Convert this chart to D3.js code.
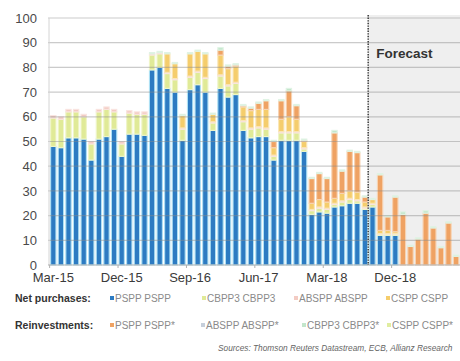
<!DOCTYPE html>
<html>
<head>
<meta charset="utf-8">
<script src="https://cdn.jsdelivr.net/npm/d3@7"></script>
<style>
  html, body { margin: 0; padding: 0; background: #fff; }
  svg { display: block; font-family: "Liberation Sans", Arial, sans-serif; }
</style>
</head>
<body>
<svg id="chart" width="460" height="361"></svg>
<script>
// Monthly Eurosystem asset purchases, EUR bn (Mar-15 .. Aug-19)
const months = ["Mar-15","Apr-15","May-15","Jun-15","Jul-15","Aug-15","Sep-15","Oct-15","Nov-15","Dec-15",
  "Jan-16","Feb-16","Mar-16","Apr-16","May-16","Jun-16","Jul-16","Aug-16","Sep-16","Oct-16","Nov-16","Dec-16",
  "Jan-17","Feb-17","Mar-17","Apr-17","May-17","Jun-17","Jul-17","Aug-17","Sep-17","Oct-17","Nov-17","Dec-17",
  "Jan-18","Feb-18","Mar-18","Apr-18","May-18","Jun-18","Jul-18","Aug-18","Sep-18","Oct-18","Nov-18","Dec-18",
  "Jan-19","Feb-19","Mar-19","Apr-19","May-19","Jun-19","Jul-19","Aug-19"];

const tickLabels = ["Mar-15","Dec-15","Sep-16","Jun-17","Mar-18","Dec-18"];
const yTicks = [0,10,20,30,40,50,60,70,80,90,100];
const forecastStart = "Sep-18";

// Net purchases
const psppNet  = [48,47.5,51.5,51.5,51,42.5,51,52,55,44, 53,53,52.5,79,80,71.5,70,50.5,71,73,70,54.5,
  71.5,68,69,54.5,51.5,52,52,42.5,50.5,50.5,50.5,46, 20.5,21.5,21,23.5,24,25,25,22.5,23.5,12,12,12,
  0,0,0,0,0,0,0,0];
const cbpp3Net = [11.5,11.5,10.5,10.5,9,6.5,11,11,7,5, 8.5,8,8.5,6,5.5,6,5,4.5,5,5,5.5,3,
  5,4.5,4.5,3.5,3.5,3.5,3,1.5,3,3,3,1, 1.5,1.5,1.5,1,1.5,1.5,1,0.5,1,0.5,0.5,0.5,
  0,0,0,0,0,0,0,0];
const absppNet = [1,1,1,1,1,1,1,1,1,1, 1,1,1,0.5,0.5,0.5,0.5,0.5,0.5,0.5,0.5,0.5,
  0.5,0.5,0.5,0.5,0.5,0.5,0.5,0.5,0.5,0.5,0.5,0.5, 0.5,0.5,0.5,0.5,0.5,0.5,0.5,0.5,0.5,0.2,0.2,0.2,
  0,0,0,0,0,0,0,0];
const csppNet  = [0,0,0,0,0,0,0,0,0,0, 0,0,0,0,0,7.5,6,5,9,8,9.5,3,
  8,6.5,6.5,5.5,7,7,7.5,3,5,6,5,2.5, 2.5,3,2.5,2,3,3,3,2,1.5,1.3,1.3,0.8,
  0,0,0,0,0,0,0,0];

// Reinvestments of maturing holdings
const psppRe   = [0,0,0,0,0,0,0,0,0,0, 0,0,0,0,0,0,0,0,0,0,0,0,
  2,1,0.5,0.5,1,2.5,3.5,2.5,7.5,10.5,5.5,0.5, 10,10.5,9.5,26.5,9,16,16,2,0,22.5,5.5,14,
  20.5,7.5,10.5,21,15,7,17,3.5];
const absppRe  = [0,0,0,0,0,0,0,0,0,0, 0,0,0,0,0,0,0,0,0,0,0,0,
  0,0,0,0,0,0,0,0,0,0,0,0, 0,0,0,0,0,0,0,0,0,0,0,0,
  0,0,0,0,0,0,0,0];
const cbpp3Re  = [0,0,0,0,0,0,0,0,0,0, 0,0,0,0.5,0.5,0.5,0.5,0.5,0.5,0.5,0.5,0.5,
  1,0.5,0.5,0.5,0.5,0.5,0.5,0.5,0.5,1,0.5,0.5, 0.5,0.5,0.5,1,0.5,0.5,0.5,0.5,0.5,0.5,0.5,0.5,
  1,0.5,0.5,1,0.5,0.5,0.5,0.5];
const csppRe   = [0,0,0,0,0,0,0,0,0,0, 0,0,0,0,0,0,0,0,0,0,0,0,
  0,0,0,0,0,0,0,0,0,0,0,0, 0,0,0,0,0,0,0,0,0,0,0,0,
  0,0,0,0,0,0,0,0];

const series = [
  { key: "psppNet",  values: psppNet,  label: "PSPP PSPP",     fill: "#2d7bc2", edge: "#aee0f4" },
  { key: "cbpp3Net", values: cbpp3Net, label: "CBPP3 CBPP3",   fill: "#e0ea97", edge: "#eff5c8" },
  { key: "absppNet", values: absppNet, label: "ABSPP ABSPP",   fill: "#f3cbc3", edge: "#f9e4e0" },
  { key: "csppNet",  values: csppNet,  label: "CSPP CSPP",     fill: "#f5cd6c", edge: "#fae6b6" },
  { key: "psppRe",   values: psppRe,   label: "PSPP PSPP*",    fill: "#efa263", edge: "#f7d3b3" },
  { key: "absppRe",  values: absppRe,  label: "ABSPP ABSPP*",  fill: "#c6cfdb", edge: "#e2e7ed" },
  { key: "cbpp3Re",  values: cbpp3Re,  label: "CBPP3 CBPP3*",  fill: "#c3e6cb", edge: "#e0f3e4" },
  { key: "csppRe",   values: csppRe,   label: "CSPP CSPP*",    fill: "#e0eda0", edge: "#eff6d0" }
];

const rows = months.map((m, i) => {
  const r = { month: m };
  series.forEach(s => { r[s.key] = s.values[i]; });
  return r;
});

const svg = d3.select("#chart");
const plot = { left: 48, right: 460, top: 18, bottom: 265 };

const x = d3.scaleBand().domain(months).range([49.5, 459.9]).paddingInner(0.3).paddingOuter(0.15);
const y = d3.scaleLinear().domain([0, 100]).range([plot.bottom, plot.top]);

// Forecast shading
const fx = x(forecastStart) - (x.step() - x.bandwidth()) / 2 - 0.5;
svg.append("rect")
  .attr("x", fx).attr("y", plot.top - 3)
  .attr("width", plot.right - fx).attr("height", plot.bottom - plot.top + 3)
  .attr("fill", "#efefef");

// Stacked bars
const stacked = d3.stack().keys(series.map(s => s.key))(rows);
const layers = svg.append("g").selectAll("g").data(stacked).join("g")
  .attr("fill", (d, i) => series[i].fill)
  .attr("stroke", (d, i) => series[i].edge)
  .attr("stroke-width", 1.1);
layers.selectAll("rect").data(d => d.filter(p => p[1] - p[0] > 0)).join("rect")
  .attr("x", d => x(d.data.month))
  .attr("width", x.bandwidth())
  .attr("y", d => y(d[1]))
  .attr("height", d => y(d[0]) - y(d[1]));

// Horizontal gridlines (drawn over the bars)
svg.append("g").selectAll("line").data(yTicks.filter(t => t > 0)).join("line")
  .attr("x1", plot.left).attr("x2", plot.right)
  .attr("y1", d => y(d)).attr("y2", d => y(d))
  .attr("stroke", "#8c8c8c").attr("stroke-opacity", 0.45).attr("stroke-width", 1.2);

// Y axis labels
const yAxis = d3.axisLeft(y).tickValues(yTicks).tickSize(0).tickPadding(0);
const yg = svg.append("g").attr("transform", `translate(37,0)`).call(yAxis);
yg.select(".domain").remove();
yg.selectAll("text").attr("font-size", 13).attr("fill", "#4a4a4a")
  .attr("font-family", "'Liberation Sans', Arial, sans-serif");

// Faint vertical axis
svg.append("line").attr("x1", 49).attr("x2", 49).attr("y1", plot.top).attr("y2", plot.bottom)
  .attr("stroke", "#d4d4d4").attr("stroke-width", 1);

// X axis
const xAxis = d3.axisBottom(x).tickValues(tickLabels).tickSize(0).tickPadding(8);
const xg = svg.append("g").attr("transform", `translate(0,${plot.bottom})`).call(xAxis);
xg.select(".domain").attr("stroke", "#b0b0b0").attr("stroke-width", 1.2)
  .attr("d", `M${plot.left},0H${plot.right}`);
xg.selectAll("text").attr("font-size", 13).attr("fill", "#3a3a3a")
  .attr("font-family", "'Liberation Sans', Arial, sans-serif");
svg.append("g").selectAll("line").data(tickLabels).join("line")
  .attr("x1", d => x(d) - 1).attr("x2", d => x(d) - 1)
  .attr("y1", plot.bottom).attr("y2", plot.bottom + 3)
  .attr("stroke", "#b0b0b0");

// Forecast divider
svg.append("line").attr("x1", fx).attr("x2", fx).attr("y1", 15).attr("y2", plot.bottom)
  .attr("stroke", "#444").attr("stroke-width", 1.6).attr("stroke-dasharray", "1.4,1.2");
svg.append("text").attr("x", fx + 8).attr("y", 58)
  .attr("font-size", 13.5).attr("font-weight", "bold").attr("fill", "#333")
  .text("Forecast");

// Legend
const legendRows = [
  { title: "Net purchases:", y: 302, items: series.slice(0, 4), xs: [110, 202, 294, 386] },
  { title: "Reinvestments:", y: 329, items: [series[4], series[5], series[6], series[7]], xs: [110, 201, 302, 387] }
];
legendRows.forEach(row => {
  svg.append("text").attr("x", 15).attr("y", row.y)
    .attr("font-size", 10.5).attr("font-weight", "bold").attr("fill", "#333")
    .text(row.title);
  row.items.forEach((s, i) => {
    svg.append("rect").attr("x", row.xs[i]).attr("y", row.y - 6).attr("width", 4).attr("height", 4)
      .attr("fill", s.fill);
    svg.append("text").attr("x", row.xs[i] + 5).attr("y", row.y)
      .attr("font-size", 10).attr("fill", "#8a8a8a")
      .text(s.label);
  });
});

// Source note
svg.append("text").attr("x", 218).attr("y", 351)
  .attr("font-size", 8.3).attr("font-style", "italic").attr("fill", "#666")
  .text("Sources: Thomson Reuters Datastream, ECB, Allianz Research");
</script>
</body>
</html>
